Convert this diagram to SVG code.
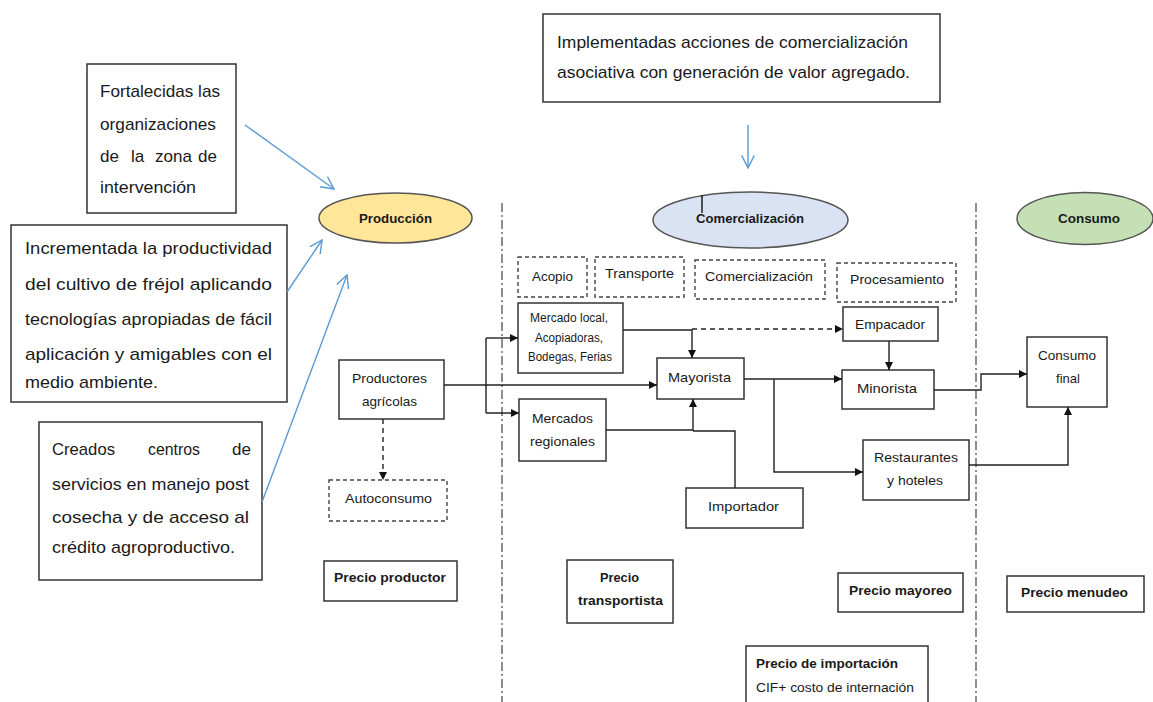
<svg xmlns="http://www.w3.org/2000/svg" width="1153" height="702" viewBox="0 0 1153 702">
<style>
text{font-family:"Liberation Sans",Arial,sans-serif;fill:#1a1a1a}
.big{font-size:17px}
.n{font-size:13px}
.b{font-size:13.5px;font-weight:bold}
.box{fill:#fff;stroke:#333;stroke-width:1.5}
.dbox{fill:#fff;stroke:#444;stroke-width:1.4;stroke-dasharray:4 3}
.div{fill:none;stroke:#444;stroke-width:1.2;stroke-dasharray:9 3 2 3}
.c{fill:none;stroke:#222;stroke-width:1.4}
.cd{fill:none;stroke:#222;stroke-width:1.4;stroke-dasharray:5 4}
.bl{fill:none;stroke:#5b9bd5;stroke-width:1.4}
.ell{stroke:#555;stroke-width:1.5}
</style>
<defs>
<marker id="ah" viewBox="0 0 10 10" refX="10" refY="5" markerWidth="8" markerHeight="8" markerUnits="userSpaceOnUse" orient="auto">
<path d="M0,0 L10,5 L0,10 z" fill="#111"/>
</marker>
<marker id="bh" viewBox="0 0 10 10" refX="9" refY="5" markerWidth="14" markerHeight="14" markerUnits="userSpaceOnUse" orient="auto">
<path d="M0,0.5 L9,5 L0,9.5" fill="none" stroke="#5b9bd5" stroke-width="1"/>
</marker>
</defs>
<rect width="1153" height="702" fill="#fff"/>

<g id="dividers">
<line class="div" x1="502" y1="203" x2="502" y2="702"/>
<line class="div" x1="976" y1="203" x2="976" y2="702"/>
</g>

<g id="box-fortalecidas">
<rect class="box" x="87" y="64" width="149" height="149"/>
<text class="big" x="100" y="97" textLength="120" lengthAdjust="spacingAndGlyphs">Fortalecidas las</text>
<text class="big" x="100" y="130" textLength="116" lengthAdjust="spacingAndGlyphs">organizaciones</text>
<text class="big" y="162"><tspan x="100">de</tspan><tspan x="131">la</tspan><tspan x="155">zona</tspan><tspan x="198">de</tspan></text>
<text class="big" x="100" y="193" textLength="96" lengthAdjust="spacingAndGlyphs">intervención</text>
</g>

<g id="box-incrementada">
<rect class="box" x="11" y="225" width="276" height="177"/>
<text class="big" x="25" y="254" textLength="247" lengthAdjust="spacingAndGlyphs">Incrementada  la  productividad</text>
<text class="big" x="25" y="290" textLength="247" lengthAdjust="spacingAndGlyphs">del  cultivo  de  fréjol aplicando</text>
<text class="big" x="25" y="325" textLength="247" lengthAdjust="spacingAndGlyphs">tecnologías apropiadas de fácil</text>
<text class="big" x="25" y="360" textLength="247" lengthAdjust="spacingAndGlyphs">aplicación  y  amigables  con  el</text>
<text class="big" x="25" y="388" textLength="133" lengthAdjust="spacingAndGlyphs">medio ambiente.</text>
</g>

<g id="box-creados">
<rect class="box" x="39" y="422" width="223" height="158"/>
<text class="big" y="455"><tspan x="52" textLength="63" lengthAdjust="spacingAndGlyphs">Creados</tspan><tspan x="148" textLength="52" lengthAdjust="spacingAndGlyphs">centros</tspan><tspan x="232">de</tspan></text>
<text class="big" x="52" y="490" textLength="197" lengthAdjust="spacingAndGlyphs">servicios en manejo post</text>
<text class="big" x="52" y="523" textLength="197" lengthAdjust="spacingAndGlyphs">cosecha  y  de  acceso  al</text>
<text class="big" x="52" y="553" textLength="183" lengthAdjust="spacingAndGlyphs">crédito agroproductivo.</text>
</g>

<g id="box-implementadas">
<rect class="box" x="543" y="14" width="397" height="88"/>
<text class="big" x="557" y="48" textLength="351" lengthAdjust="spacingAndGlyphs">Implementadas acciones de comercialización</text>
<text class="big" x="557" y="78" textLength="353" lengthAdjust="spacingAndGlyphs">asociativa con generación de valor agregado.</text>
</g>

<g id="produccion">
<ellipse class="ell" cx="395.5" cy="218" rx="76.5" ry="25" fill="#ffe699"/>
<text class="b" x="359" y="223" textLength="73" lengthAdjust="spacingAndGlyphs">Producción</text>
</g>
<g id="comercializacion">
<ellipse class="ell" cx="750.5" cy="220" rx="97.5" ry="28" fill="#dae3f3"/>
<line x1="702" y1="195" x2="702" y2="213" stroke="#111" stroke-width="1.4"/>
<text class="b" x="696" y="223" textLength="108" lengthAdjust="spacingAndGlyphs">Comercialización</text>
</g>
<g id="consumo">
<ellipse class="ell" cx="1085" cy="218.5" rx="68" ry="26" fill="#c5e0b4"/>
<text class="b" x="1058" y="223" textLength="62" lengthAdjust="spacingAndGlyphs">Consumo</text>
</g>

<g id="acopio"><rect class="dbox" x="518" y="257" width="69" height="40"/>
<text class="n" x="532" y="281" textLength="41" lengthAdjust="spacingAndGlyphs">Acopio</text></g>
<g id="transporte"><rect class="dbox" x="595" y="257" width="89" height="40"/>
<text class="n" x="605" y="278" textLength="69" lengthAdjust="spacingAndGlyphs">Transporte</text></g>
<g id="comercializacion-etapa"><rect class="dbox" x="695" y="260" width="130" height="39"/>
<text class="n" x="705" y="281" textLength="108" lengthAdjust="spacingAndGlyphs">Comercialización</text></g>
<g id="procesamiento"><rect class="dbox" x="837" y="263" width="119" height="39"/>
<text class="n" x="850" y="284" textLength="94" lengthAdjust="spacingAndGlyphs">Procesamiento</text></g>

<g id="mercado-local"><rect class="box" x="518" y="303" width="105" height="70"/>
<text class="n" x="530" y="322" textLength="78" lengthAdjust="spacingAndGlyphs" style="font-size:12px">Mercado local,</text>
<text class="n" x="535" y="342" textLength="68" lengthAdjust="spacingAndGlyphs" style="font-size:12px">Acopiadoras,</text>
<text class="n" x="528" y="361" textLength="84" lengthAdjust="spacingAndGlyphs" style="font-size:12px">Bodegas, Ferias</text></g>

<g id="productores"><rect class="box" x="339" y="360" width="105" height="59"/>
<text class="n" x="352" y="383" textLength="75" lengthAdjust="spacingAndGlyphs">Productores</text>
<text class="n" x="362" y="406" textLength="55" lengthAdjust="spacingAndGlyphs">agrícolas</text></g>

<g id="mercados-regionales"><rect class="box" x="519" y="399" width="87" height="62"/>
<text class="n" x="532" y="423" textLength="61" lengthAdjust="spacingAndGlyphs">Mercados</text>
<text class="n" x="530" y="446" textLength="65" lengthAdjust="spacingAndGlyphs">regionales</text></g>

<g id="autoconsumo"><rect class="dbox" x="329" y="480" width="118" height="41"/>
<text class="n" x="345" y="503" textLength="87" lengthAdjust="spacingAndGlyphs">Autoconsumo</text></g>

<g id="mayorista"><rect class="box" x="657" y="358" width="87" height="41"/>
<text class="n" x="668" y="382" textLength="63" lengthAdjust="spacingAndGlyphs">Mayorista</text></g>

<g id="empacador"><rect class="box" x="843" y="307" width="95" height="34"/>
<text class="n" x="855" y="329" textLength="70" lengthAdjust="spacingAndGlyphs">Empacador</text></g>

<g id="minorista"><rect class="box" x="842" y="370" width="92" height="39"/>
<text class="n" x="857" y="393" textLength="60" lengthAdjust="spacingAndGlyphs">Minorista</text></g>

<g id="restaurantes"><rect class="box" x="863" y="440" width="106" height="60"/>
<text class="n" x="874" y="462" textLength="84" lengthAdjust="spacingAndGlyphs">Restaurantes</text>
<text class="n" x="887" y="485" textLength="56" lengthAdjust="spacingAndGlyphs">y hoteles</text></g>

<g id="importador"><rect class="box" x="686" y="488" width="117" height="40"/>
<text class="n" x="708" y="511" textLength="71" lengthAdjust="spacingAndGlyphs">Importador</text></g>

<g id="consumo-final"><rect class="box" x="1027" y="337" width="80" height="70"/>
<text class="n" x="1038" y="360" textLength="58" lengthAdjust="spacingAndGlyphs">Consumo</text>
<text class="n" x="1068" y="383" text-anchor="middle">final</text></g>

<g id="precio-productor"><rect class="box" x="324" y="561" width="133" height="40"/>
<text class="b" x="334" y="582" textLength="112" lengthAdjust="spacingAndGlyphs">Precio productor</text></g>
<g id="precio-transportista"><rect class="box" x="567" y="560" width="106" height="63"/>
<text class="b" x="600" y="582" textLength="39" lengthAdjust="spacingAndGlyphs">Precio</text>
<text class="b" x="578" y="605" textLength="85" lengthAdjust="spacingAndGlyphs">transportista</text></g>
<g id="precio-mayoreo"><rect class="box" x="838" y="573" width="125" height="39"/>
<text class="b" x="849" y="595" textLength="103" lengthAdjust="spacingAndGlyphs">Precio mayoreo</text></g>
<g id="precio-menudeo"><rect class="box" x="1007" y="576" width="137" height="36"/>
<text class="b" x="1021" y="597" textLength="107" lengthAdjust="spacingAndGlyphs">Precio menudeo</text></g>
<g id="precio-importacion"><rect class="box" x="746" y="646" width="182" height="62"/>
<text class="b" x="756" y="668" textLength="142" lengthAdjust="spacingAndGlyphs">Precio de importación</text>
<text class="n" x="756" y="692" textLength="158" lengthAdjust="spacingAndGlyphs">CIF+ costo de internación</text></g>

<g id="connectors">
<path class="c" d="M444,385 H657" marker-end="url(#ah)"/>
<path class="c" d="M486,338 V413"/>
<path class="c" d="M486,338 H518" marker-end="url(#ah)"/>
<path class="c" d="M486,413 H519" marker-end="url(#ah)"/>
<path class="c" d="M623,330 H692 V358" marker-end="url(#ah)"/>
<path class="cd" d="M692,329 H843" marker-end="url(#ah)"/>
<path class="c" d="M606,430 H693"/>
<path class="c" d="M735,488 V431 H693"/>
<path class="c" d="M693,431 V399" marker-end="url(#ah)"/>
<path class="c" d="M744,379 H842" marker-end="url(#ah)"/>
<path class="c" d="M774,379 V472 H863" marker-end="url(#ah)"/>
<path class="c" d="M889,341 V370" marker-end="url(#ah)"/>
<path class="c" d="M934,390 H981 V374 H1027" marker-end="url(#ah)"/>
<path class="c" d="M969,465 H1068 V407" marker-end="url(#ah)"/>
<path class="cd" d="M383,419 V480" marker-end="url(#ah)"/>
<path class="bl" d="M245,125 L334,189" marker-end="url(#bh)"/>
<path class="bl" d="M287,292 L322,240" marker-end="url(#bh)"/>
<path class="bl" d="M262,502 L347,275" marker-end="url(#bh)"/>
<path class="bl" d="M748,125 V168" marker-end="url(#bh)"/>
</g>
</svg>
